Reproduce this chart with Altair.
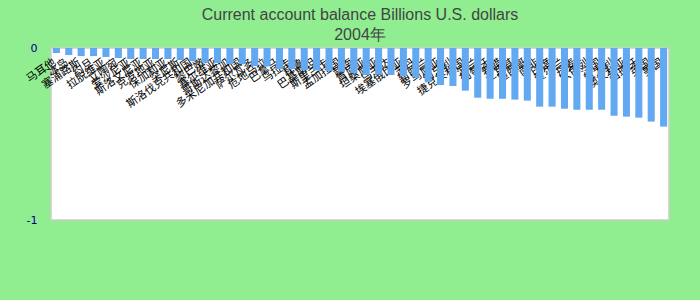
import altair as alt
import pandas as pd

countries = ["马耳他", "冰岛", "塞浦路斯", "约旦", "拉脱维亚", "立陶宛", "爱沙尼亚", "斯洛文尼亚",
             "克罗地亚", "保加利亚", "突尼斯", "斯洛伐克共和国", "黎巴嫩", "塞尔维亚", "哥斯达黎加",
             "多米尼加共和国", "萨尔瓦多", "危地马拉", "巴拿马", "乌拉圭", "秘鲁", "巴基斯坦", "斯里兰卡",
             "孟加拉国", "越南", "肯尼亚", "坦桑尼亚", "乌干达", "埃塞俄比亚", "苏丹", "新西兰",
             "罗马尼亚", "匈牙利", "捷克共和国", "波兰", "葡萄牙", "希腊", "土耳其", "墨西哥", "南非",
             "印度", "爱尔兰", "丹麦", "以色列", "法国", "意大利", "澳大利亚", "西班牙", "英国", "美国"]

values = [-0.029, -0.041, -0.047, -0.047, -0.052, -0.058, -0.064, -0.064, -0.064, -0.064,
          -0.070, -0.076, -0.085, -0.087, -0.093, -0.093, -0.105, -0.108, -0.122, -0.122,
          -0.128, -0.130, -0.134, -0.138, -0.147, -0.157, -0.155, -0.157, -0.163, -0.172,
          -0.196, -0.215, -0.221, -0.248, -0.289, -0.295, -0.295, -0.300, -0.306, -0.341,
          -0.341, -0.353, -0.359, -0.359, -0.359, -0.394, -0.399, -0.405, -0.428, -0.457]

title_lines = ["Current account balance Billions U.S. dollars", "2004年"]
y_ticks = [0, -1]

df = pd.DataFrame({"country": countries, "value": values})

chart = alt.Chart(df).mark_bar(color="#63a9f2").encode(
    x=alt.X("country:N", sort=None,
            scale=alt.Scale(paddingInner=0.43, paddingOuter=0.15),
            axis=alt.Axis(orient="bottom", offset=-172, labelAngle=-35, ticks=False,
                          domain=False, title=None, labelFontSize=11, labelColor="#000000",
                          labelFont="Noto Sans CJK SC", labelPadding=8, labelOffset=-5,
                          labelOverlap=False, grid=False)),
    y=alt.Y("value:Q", scale=alt.Scale(domain=[-1, 0], nice=False),
            axis=alt.Axis(values=y_ticks, ticks=False, domain=False, grid=False, title=None,
                          labelExpr="toString(datum.value)",
                          labelColor="#00008b", labelFontSize=11, labelFont="DejaVu Sans",
                          labelPadding=14)),
).properties(
    width=618, height=172,
    autosize=alt.AutoSizeParams(type="none"),
    padding={"left": 51, "top": 48, "right": 31, "bottom": 80},
    background="#90ee90",
    title=alt.TitleParams(text=title_lines, fontSize=16, font="Liberation Sans", lineHeight=20,
                          color="#444444", fontWeight="normal", anchor="middle", offset=-1),
).configure_view(stroke="#cccccc", strokeWidth=1.5, fill="white")

chart.save("out.html", embed_options={"renderer": "svg", "actions": False})
